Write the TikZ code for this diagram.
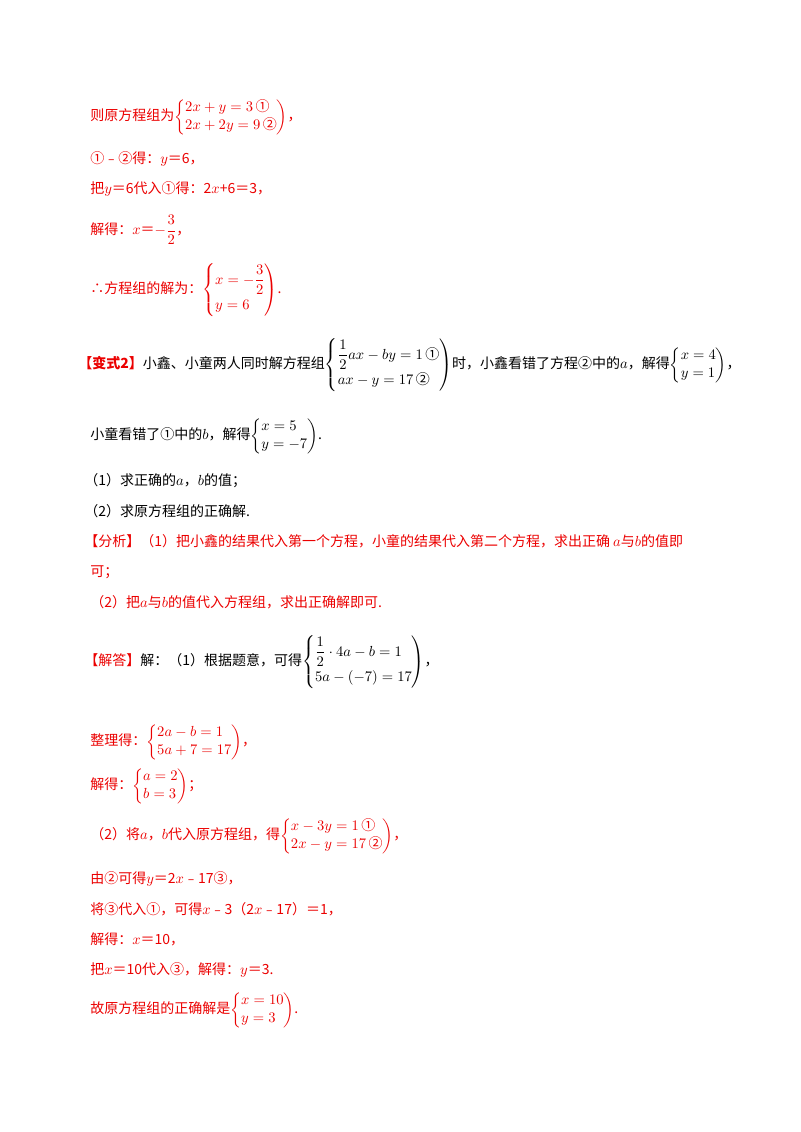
\documentclass[tikz,border=0pt]{standalone}
\usepackage{fontspec}
\usepackage{amsmath}
\setmainfont{Liberation Serif}
\newfontfamily\cjk{Noto Sans CJK SC}
\newcommand{\cn}[1]{\text{\cjk #1}}
\newcommand{\qa}{\mbox{\cjk ①}}
\newcommand{\qb}{\mbox{\cjk ②}}
\newcommand{\qc}{\mbox{\cjk ③}}
\definecolor{rd}{RGB}{235,0,0}
\begin{document}
\begin{tikzpicture}[x=0.75pt,y=-0.75pt,
  txt/.style={anchor=west,inner sep=0pt,font=\cjk\fontsize{10.5}{13}\selectfont},
  red/.style={txt,text=rd}]
\useasboundingbox (0,0) rectangle (800,1132);
\node[red] (l1) at (90,117) {则原方程组为$\left\{\begin{array}{@{}l@{}}2x+y=3\,\qa\\2x+2y=9\,\qb\end{array}\right)$，};
\node[red] (l2) at (90,159) {①﹣②得：$y$＝6，};
\node[red] (l3) at (90,189) {把$y$＝6代入①得：2$x$+6＝3，};
\node[red] (l4) at (90,230) {解得：$x$＝$-\dfrac{3}{2}$，};
\node[red] (l5) at (90,290) {∴方程组的解为：$\left\{\begin{array}{@{}l@{}}x=-\dfrac{3}{2}\\[6pt] y=6\end{array}\right)$.};
\node[txt] (l6) at (78,365) {\textbf{\color{rd}【变式2】}小鑫、小童两人同时解方程组$\left\{\begin{array}{@{}l@{}}\dfrac{1}{2}ax-by=1\,\qa\\[6pt] ax-y=17\,\qb\end{array}\right)$时，小鑫看错了方程②中的$a$，解得$\left\{\begin{array}{@{}l@{}}x=4\\y=1\end{array}\right)$，};
\node[txt] (l7) at (90,436) {小童看错了①中的$b$，解得$\left\{\begin{array}{@{}l@{}}x=5\\y=-7\end{array}\right)$.};
\node[txt] (l8) at (84,481) {（1）求正确的$a$，$b$的值；};
\node[txt] (l9) at (84,511) {（2）求原方程组的正确解.};
\node[red] (l10) at (84,541) {【分析】（1）把小鑫的结果代入第一个方程，小童的结果代入第二个方程，求出正确 $a$与$b$的值即};
\node[red] (l11) at (90,572) {可；};
\node[red] (l12) at (90,602) {（2）把$a$与$b$的值代入方程组，求出正确解即可.};
\node[txt] (l13) at (84,662) {{\color{rd}【解答】}解：（1）根据题意，可得$\left\{\begin{array}{@{}l@{}}\dfrac{1}{2}\cdot 4a-b=1\\[6pt] 5a-(-7)=17\end{array}\right)$，};
\node[red] (l14) at (90,742) {整理得：$\left\{\begin{array}{@{}l@{}}2a-b=1\\5a+7=17\end{array}\right)$，};
\node[red] (l15) at (90,786) {解得：$\left\{\begin{array}{@{}l@{}}a=2\\b=3\end{array}\right)$；};
\node[red] (l16) at (90,836) {（2）将$a$，$b$代入原方程组，得$\left\{\begin{array}{@{}l@{}}x-3y=1\,\qa\\2x-y=17\,\qb\end{array}\right)$，};
\node[red] (l17) at (90,879) {由②可得$y$＝2$x$﹣17③，};
\node[red] (l18) at (90,909) {将③代入①，可得$x$﹣3（2$x$﹣17）＝1，};
\node[red] (l19) at (90,939) {解得：$x$＝10，};
\node[red] (l20) at (90,970) {把$x$＝10代入③，解得：$y$＝3.};
\node[red] (l21) at (90,1010) {故原方程组的正确解是$\left\{\begin{array}{@{}l@{}}x=10\\y=3\end{array}\right)$.};
\end{tikzpicture}
\end{document}
